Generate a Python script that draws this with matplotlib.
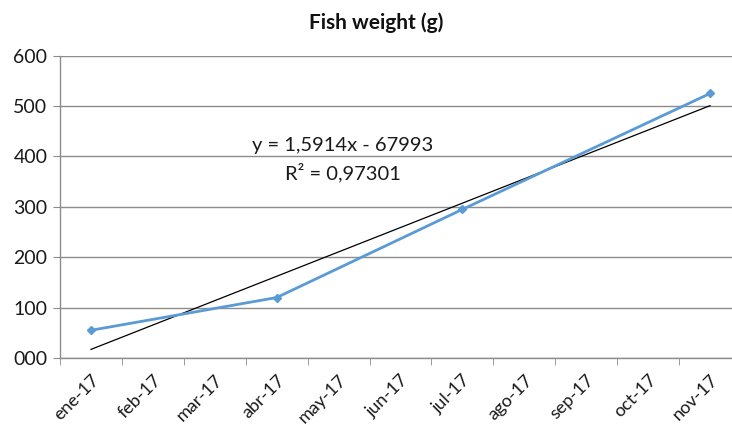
import matplotlib.pyplot as plt
import numpy as np
from datetime import date

plt.rcParams['font.family'] = ['Lato', 'DejaVu Sans']

# categories on the date axis
month_labels = ['ene-17', 'feb-17', 'mar-17', 'abr-17', 'may-17', 'jun-17',
                'jul-17', 'ago-17', 'sep-17', 'oct-17', 'nov-17']

# samples (month index on axis, sampling date, weight in g)
sample_month = [0, 3, 6, 10]
sample_dates = [date(2017, 1, 1), date(2017, 4, 1), date(2017, 7, 1), date(2017, 11, 1)]
fish_weight = [55, 120, 295, 525]

# Excel linear trendline (x = Excel serial date)
trend_slope = 1.5914
trend_intercept = -67993
eq_text = 'y = 1,5914x - 67993'
r2_text = 'R² = 0,97301'

y_ticks = [0, 100, 200, 300, 400, 500, 600]
y_ticklabels = ['000', '100', '200', '300', '400', '500', '600']


def excel_serial(d):
    return (d - date(1899, 12, 30)).days


fig = plt.figure(figsize=(7.32, 4.25), dpi=100)
ax = fig.add_axes([60 / 732, 1 - 358 / 425, 681 / 732, (358 - 55.7) / 425])

grid_col = '#8c8c8c'
txt_col = '#1a1a1a'
ax.set_ylim(0, 600)
ax.set_xlim(-0.5, len(month_labels) - 0.5)
ax.set_yticks(y_ticks)
ax.set_yticklabels(y_ticklabels, fontsize=14, color=txt_col)
ax.yaxis.grid(True, color=grid_col, linewidth=1.0)
ax.set_axisbelow(True)

for s in ['top', 'right']:
    ax.spines[s].set_visible(False)
for s in ['left', 'bottom']:
    ax.spines[s].set_color(grid_col)
    ax.spines[s].set_linewidth(1.0)
ax.tick_params(axis='y', length=5, color=grid_col, pad=4)

# ticks between categories, labels at centers
ax.set_xticks(np.arange(len(month_labels)))
ax.set_xticklabels(month_labels, rotation=45, ha='right', va='top',
                   rotation_mode='anchor', fontsize=13, color=txt_col)
ax.set_xticks(np.arange(len(month_labels) + 1) - 0.5, minor=True)
ax.tick_params(axis='x', which='major', length=0, pad=10)
ax.tick_params(axis='x', which='minor', length=5, color=grid_col)

# trendline
x_first = excel_serial(sample_dates[0])
x_last = excel_serial(sample_dates[-1])
trend_y = [trend_slope * x_first + trend_intercept, trend_slope * x_last + trend_intercept]
ax.plot([sample_month[0], sample_month[-1]], trend_y, color='black', linewidth=0.9, zorder=3)

# series
ax.plot(sample_month, fish_weight, color='#5b9bd5', linewidth=2.0, marker='D',
        markersize=4, zorder=4, clip_on=False)

fig.text(343 / 732, 1 - 145 / 425, eq_text, ha='center', va='center', fontsize=14.5, color=txt_col)
fig.text(343 / 732, 1 - 173 / 425, r2_text, ha='center', va='center', fontsize=14.5, color=txt_col)
fig.text(376 / 732, 1 - 23 / 425, 'Fish weight (g)', ha='center', va='center',
         fontsize=15, fontweight='bold', color='#111111')

fig.savefig('out.png', dpi=100)
